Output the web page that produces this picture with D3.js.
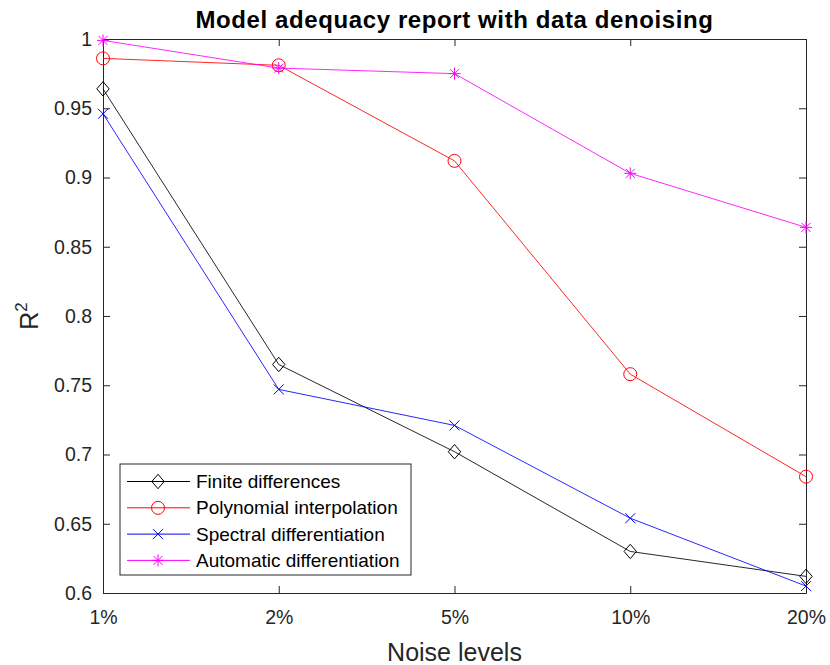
<!DOCTYPE html>
<html>
<head>
<meta charset="utf-8">
<script src="https://cdn.jsdelivr.net/npm/d3@7"></script>
<style>
  body { margin: 0; background: #fff; }
  text { font-family: "Liberation Sans", Arial, sans-serif; fill: #262626; }
</style>
</head>
<body>
<div id="chart"></div>
<script>
// Data
const noiseLevels = ['1%', '2%', '5%', '10%', '20%'];
const finiteDiff = [0.964, 0.765, 0.702, 0.630, 0.612];
const polyInterp = [0.986, 0.981, 0.912, 0.758, 0.684];
const spectralDiff = [0.946, 0.747, 0.721, 0.654, 0.605];
const autoDiff = [0.999, 0.979, 0.975, 0.903, 0.864];
const yTicks = [0.6, 0.65, 0.7, 0.75, 0.8, 0.85, 0.9, 0.95, 1];

const series = [
  {name: 'Finite differences', values: finiteDiff, color: '#000000', marker: 'diamond'},
  {name: 'Polynomial interpolation', values: polyInterp, color: '#ff0000', marker: 'circle'},
  {name: 'Spectral differentiation', values: spectralDiff, color: '#0000ff', marker: 'x'},
  {name: 'Automatic differentiation', values: autoDiff, color: '#ff00ff', marker: 'star'}
];

const width = 830, height = 665;
const margin = {top: 39, right: 24, bottom: 72, left: 103};
const innerW = width - margin.left - margin.right;
const innerH = height - margin.top - margin.bottom;

const svg = d3.select('#chart').append('svg')
    .attr('width', width)
    .attr('height', height);

const chart = svg.append('g')
    .attr('transform', `translate(${margin.left},${margin.top})`);

const x = d3.scalePoint().domain(noiseLevels).range([0, innerW]);
const y = d3.scaleLinear().domain([0.6, 1]).range([innerH, 0]);

const axisColor = '#262626';
const tickLen = 7;

// axes with inward ticks (box on, like matlab)
const xAxis = chart.append('g')
    .attr('transform', `translate(0,${innerH})`)
    .call(d3.axisBottom(x).tickSizeInner(-tickLen).tickSizeOuter(0).tickPadding(17));
const yAxis = chart.append('g')
    .call(d3.axisLeft(y).tickValues(yTicks).tickFormat(d => d3.format('')(+d.toFixed(2))).tickSizeInner(-tickLen).tickSizeOuter(0).tickPadding(11));
const xTop = chart.append('g')
    .call(d3.axisTop(x).tickSizeInner(-tickLen).tickSizeOuter(0).tickFormat(''));
const yRight = chart.append('g')
    .attr('transform', `translate(${innerW},0)`)
    .call(d3.axisRight(y).tickValues(yTicks).tickSizeInner(-tickLen).tickSizeOuter(0).tickFormat(''));

[xAxis, yAxis, xTop, yRight].forEach(a => {
  a.select('.domain').attr('stroke', axisColor);
  a.selectAll('.tick line').attr('stroke', axisColor);
  a.selectAll('.tick text').style('font-size', '19.5px').attr('fill', axisColor);
});

// line + markers
const line = d3.line()
    .x((d, i) => x(noiseLevels[i]))
    .y(d => y(d));

function drawMarker(g, type, color) {
  if (type === 'diamond') {
    g.append('path').attr('d', 'M0,-7.2L6.2,0L0,7.2L-6.2,0Z')
        .attr('fill', 'none').attr('stroke', color).attr('stroke-width', 1);
  } else if (type === 'circle') {
    g.append('circle').attr('r', 6.5)
        .attr('fill', 'none').attr('stroke', color).attr('stroke-width', 1);
  } else if (type === 'x') {
    g.append('path').attr('d', 'M-5,-5L5,5M-5,5L5,-5')
        .attr('stroke', color).attr('stroke-width', 1);
  } else if (type === 'star') {
    g.append('path').attr('d', 'M-4.5,-4.5L4.5,4.5M-4.5,4.5L4.5,-4.5M-6,0L6,0M0,-6L0,6')
        .attr('stroke', color).attr('stroke-width', 1);
  }
}

series.forEach(s => {
  chart.append('path')
      .datum(s.values)
      .attr('fill', 'none')
      .attr('stroke', s.color)
      .attr('stroke-width', 1)
      .attr('stroke-opacity', 0.85)
      .attr('d', line);
  s.values.forEach((v, i) => {
    const g = chart.append('g')
        .attr('transform', `translate(${x(noiseLevels[i])},${y(v)})`);
    drawMarker(g, s.marker, s.color);
  });
});

// title and axis labels
svg.append('text')
    .attr('x', margin.left + innerW / 2)
    .attr('y', 28)
    .attr('text-anchor', 'middle')
    .style('font-size', '24px')
    .style('letter-spacing', '0.6px')
    .style('font-weight', 'bold')
    .style('fill', '#000')
    .text('Model adequacy report with data denoising');

svg.append('text')
    .attr('x', margin.left + innerW / 2)
    .attr('y', 661)
    .attr('text-anchor', 'middle')
    .style('font-size', '25px')
    .text('Noise levels');

const yLabel = svg.append('text')
    .attr('transform', `translate(38,${margin.top + innerH / 2}) rotate(-90)`)
    .attr('text-anchor', 'middle')
    .style('font-size', '25px');
yLabel.append('tspan').text('R');
yLabel.append('tspan').attr('dy', -11).style('font-size', '17px').text('2');

// legend
const legend = svg.append('g')
    .attr('transform', 'translate(120,464)');
legend.append('rect')
    .attr('width', 291)
    .attr('height', 111)
    .attr('fill', '#fff')
    .attr('stroke', axisColor)
    .attr('stroke-width', 1);

series.forEach((s, i) => {
  const row = legend.append('g')
      .attr('transform', `translate(0,${17.5 + i * 26.3})`);
  row.append('line')
      .attr('x1', 7).attr('x2', 70)
      .attr('stroke', s.color).attr('stroke-width', 1);
  const m = row.append('g').attr('transform', 'translate(38,0)');
  drawMarker(m, s.marker, s.color);
  row.append('text')
      .attr('x', 76)
      .attr('dy', '0.35em')
      .style('font-size', '19px')
      .style('fill', '#000')
      .text(s.name);
});
</script>
</body>
</html>
